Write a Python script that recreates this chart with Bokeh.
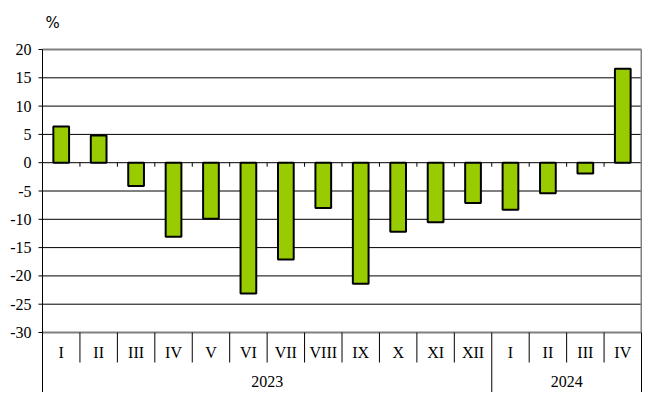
from bokeh.plotting import figure
from bokeh.models import Range1d, ColumnDataSource
from bokeh.core.properties import value
from bokeh.embed import file_html
from bokeh.resources import INLINE

months = ["I", "II", "III", "IV", "V", "VI", "VII", "VIII", "IX", "X", "XI", "XII",
          "I", "II", "III", "IV"]
values = [6.4, 4.8, -4.1, -13.1, -9.9, -23.1, -17.1, -8.0, -21.4, -12.2, -10.5, -7.1,
          -8.3, -5.4, -1.9, 16.6]
years = ["2023", "2024"]
year_counts = [12, 4]
y_ticks = [-30, -25, -20, -15, -10, -5, 0, 5, 10, 15, 20]
unit_label = "%"

FONT = "Liberation Serif"
n = len(months)
Y_TOP, Y_BOT = 20, -30

# page layout (pixels) -> data ranges
FIG_LEFT, FIG_TOP, FIG_W, FIG_H = 0, 0, 642, 392
PLOT_L, PLOT_R, PLOT_T, PLOT_B = 42, 641, 49, 332
pxx = (PLOT_R - PLOT_L) / n
pxy = (PLOT_B - PLOT_T) / (Y_TOP - Y_BOT)
x_start = -(PLOT_L - FIG_LEFT) / pxx
x_end = n + (FIG_LEFT + FIG_W - PLOT_R) / pxx
y_end = Y_TOP + (PLOT_T - FIG_TOP) / pxy
y_start = Y_TOP - (FIG_TOP + FIG_H - PLOT_T) / pxy

p = figure(width=FIG_W, height=FIG_H, output_backend="svg", toolbar_location=None,
           x_range=Range1d(x_start, x_end), y_range=Range1d(y_start, y_end),
           min_border=0, x_axis_location=None, y_axis_location=None)
p.outline_line_color = None
p.background_fill_color = "white"
p.border_fill_color = "white"
p.xgrid.visible = False
p.ygrid.visible = False

# horizontal gridlines
inner = [t for t in y_ticks if Y_BOT < t < Y_TOP]
p.segment(x0=[0] * len(inner), y0=inner, x1=[n] * len(inner), y1=inner,
          line_color="black", line_width=1)

# gray frame top/bottom/right
p.segment(x0=[0, 0, n], y0=[Y_TOP, Y_BOT, Y_TOP], x1=[n, n, n], y1=[Y_TOP, Y_BOT, Y_BOT],
          line_color="#808080", line_width=2)

# left axis line (extends through label area) and ticks
p.segment(x0=[0], y0=[Y_TOP], x1=[0], y1=[y_start], line_color="black", line_width=1)
tl = 4 / pxx
p.segment(x0=[-tl] * len(y_ticks), y0=y_ticks, x1=[0] * len(y_ticks), y1=y_ticks,
          line_color="black", line_width=1)
p.text(x=[-11 / pxx] * len(y_ticks), y=y_ticks, text=[str(t) for t in y_ticks],
       text_font=value(FONT), text_font_size="16px", text_align="right",
       text_baseline="middle", text_color="black")

# bars
xs = [i + 0.5 for i in range(n)]
src = ColumnDataSource(dict(x=xs, top=values, month=months))
p.vbar(x="x", top="top", bottom=0, width=0.42, source=src,
       fill_color="#99CC00", line_color="black", line_width=2)

# small ticks at zero line on category boundaries
tick_len = 4 / pxy
bx = list(range(1, n))
p.segment(x0=bx, y0=[0] * len(bx), x1=bx, y1=[-tick_len] * len(bx),
          line_color="black", line_width=1)

# category label separators
sep_short = Y_BOT - 30 / pxy
year_bounds = [0]
for c in year_counts:
    year_bounds.append(year_bounds[-1] + c)
short_x = [b for b in range(1, n) if b not in year_bounds]
p.segment(x0=short_x, y0=[Y_BOT] * len(short_x), x1=short_x, y1=[sep_short] * len(short_x),
          line_color="black", line_width=1)
long_x = [b for b in year_bounds if b != 0]
p.segment(x0=long_x, y0=[Y_BOT] * len(long_x), x1=long_x, y1=[y_start] * len(long_x),
          line_color="black", line_width=1)

# month labels
p.text(x="x", y=Y_BOT - 20 / pxy, text="month", source=src, text_font=value(FONT),
       text_font_size="16px", text_align="center", text_baseline="middle", text_color="black")

# year labels
ycx = [(year_bounds[i] + year_bounds[i + 1]) / 2 for i in range(len(years))]
p.text(x=ycx, y=[Y_BOT - 49 / pxy] * len(years), text=years, text_font=value(FONT),
       text_font_size="16px", text_align="center", text_baseline="middle", text_color="black")

# unit label
p.text(x=[3 / pxx], y=[Y_TOP + 27 / pxy], text=[unit_label], text_font=value("DejaVu Sans"),
       text_font_size="15px", text_align="left", text_baseline="middle", text_color="black")

open("out.html", "w").write(file_html(p, INLINE))
